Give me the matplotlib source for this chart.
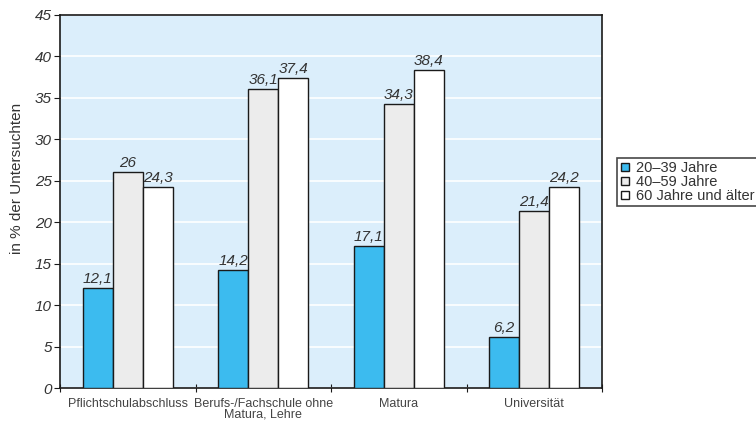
import matplotlib.pyplot as plt
import numpy as np

categories = ['Pflichtschulabschluss', 'Berufs-/Fachschule ohne\nMatura, Lehre', 'Matura', 'Universität']
series = ['20–39 Jahre', '40–59 Jahre', '60 Jahre und älter']
v_20_39 = [12.1, 14.2, 17.1, 6.2]
v_40_59 = [26, 36.1, 34.3, 21.4]
v_60 = [24.3, 37.4, 38.4, 24.2]
colors = ['#3cbbef', '#ececec', '#ffffff']

plt.rcParams['font.family'] = ['Liberation Sans', 'DejaVu Sans']

fig = plt.figure(figsize=(7.56, 4.23), dpi=100)
ax = fig.add_axes([60/756, 1 - 388/423, 542/756, 373/423])
ax.set_facecolor('#dbeefb')

x = np.arange(len(categories))
w = 0.222
handles = []
for i, (vals, name) in enumerate(zip([v_20_39, v_40_59, v_60], series)):
    pos = x + (i - 1) * w
    ax.bar(pos, vals, w, color=colors[i], edgecolor='#1a1a1a', linewidth=1.0, zorder=3)
    for p, v in zip(pos, vals):
        ax.text(p, v + 0.25, ('%g' % v).replace('.', ','), ha='center', va='bottom',
                fontsize=11, style='italic', color='#333333', zorder=4)
    h, = ax.plot([], [], 's', markersize=5.5, markerfacecolor=colors[i],
                 markeredgecolor='#1a1a1a', markeredgewidth=1.0, label=name)
    handles.append(h)

ax.set_xlim(-0.5, 3.5)
ax.set_ylim(0, 45)
ax.set_yticks(np.arange(0, 46, 5))
ax.set_yticklabels([str(t) for t in range(0, 46, 5)], fontsize=11, style='italic', color='#333333')
ax.yaxis.grid(True, color='white', linewidth=1.2, zorder=1)
ax.set_axisbelow(True)

ax.set_xticks(np.arange(-0.5, 4, 1))
ax.set_xticklabels([])
ax.set_xticks(x, minor=True)
ax.set_xticklabels(categories, minor=True, fontsize=9, color='#444444', linespacing=0.9)
ax.tick_params(axis='x', which='minor', length=0, pad=7)
ax.tick_params(axis='x', which='major', direction='inout', length=6, color='#1a1a1a')
ax.tick_params(axis='y', direction='out', length=4, color='#1a1a1a', pad=2)

for s in ax.spines.values():
    s.set_color('#1a1a1a')
    s.set_linewidth(1.2)

ax.set_ylabel('in % der Untersuchten', fontsize=11, color='#333333')
ax.yaxis.set_label_coords(-0.066, 0.563)

leg = fig.legend(handles=handles, loc='upper left', bbox_to_anchor=(617/756, 1 - 158/423),
                 fontsize=10.5, frameon=True, fancybox=False, edgecolor='#1a1a1a',
                 handlelength=0.7, handletextpad=0.4,
                 labelspacing=0.0, borderpad=0.2, borderaxespad=0)
leg.get_frame().set_linewidth(1.2)
for t in leg.get_texts():
    t.set_color('#333333')

fig.savefig('out.png', dpi=100)
